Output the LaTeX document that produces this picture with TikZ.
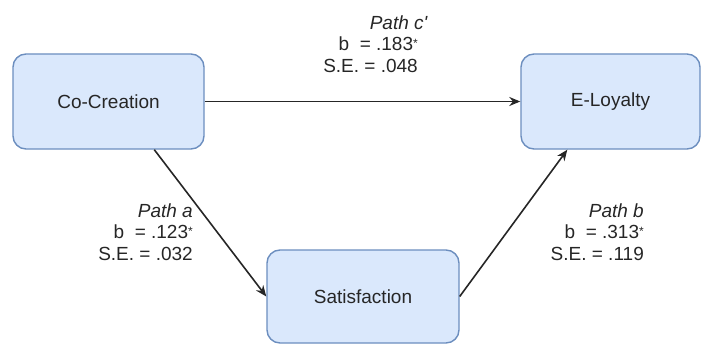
\documentclass[tikz,border=0pt]{standalone}
\usepackage{fontspec}
\newfontfamily\arialf{Liberation Sans}
\usetikzlibrary{arrows.meta,calc}
\newcommand{\smallast}{\raisebox{3pt}{\fontsize{12}{12}\selectfont *}}
\tikzset{
  varbox/.style={draw=boxedge, fill=boxfill, line width=1.4pt, rounded corners=13pt,
    inner sep=0pt, font=\arialf\fontsize{19}{21.5}\selectfont, text=black!85},
  conn/.style={draw=black!85, line width=1.6pt, -{Stealth[length=11pt,width=9pt]}},
  lbl/.style={align=right, inner sep=0pt, font=\arialf\fontsize{19}{21.5}\selectfont, text=black!85}
}
\definecolor{boxfill}{HTML}{DAE8FC}
\definecolor{boxedge}{HTML}{6C8EBF}
\begin{document}
\begin{tikzpicture}[x=1pt,y=-1pt]
\useasboundingbox (0,0) rectangle (701,345);
\node[varbox, minimum width=191pt, minimum height=95pt] (cc) at (108.5,101.5) {Co-Creation};
\node[varbox, minimum width=179pt, minimum height=95pt] (el) at (610.5,101.5) {E-Loyalty};
\node[varbox, minimum width=192pt, minimum height=93pt] (sat) at (363,296.5) {Satisfaction};
\coordinate (ccout) at ($(cc.south west)+(142,0)$);
\coordinate (elin) at ($(el.south west)+(47,0)$);
\draw[conn] (cc.east) -- (el.west);
\draw[conn] (ccout) -- (sat.west);
\draw[conn] (sat.east) -- (elin);
\node[lbl, anchor=east] (lc) at (418,44) {\textit{Path c'}\kern-10pt\\b\ \ = .183\smallast\\S.E. = .048};
\node[lbl, anchor=east] (la) at (193,232) {\textit{Path a}\\b\ \ = .123\smallast\\S.E. = .032};
\node[lbl, anchor=east] (lb) at (644,232) {\textit{Path b}\\b\ \ = .313\smallast\\S.E. = .119};
\end{tikzpicture}
\end{document}
